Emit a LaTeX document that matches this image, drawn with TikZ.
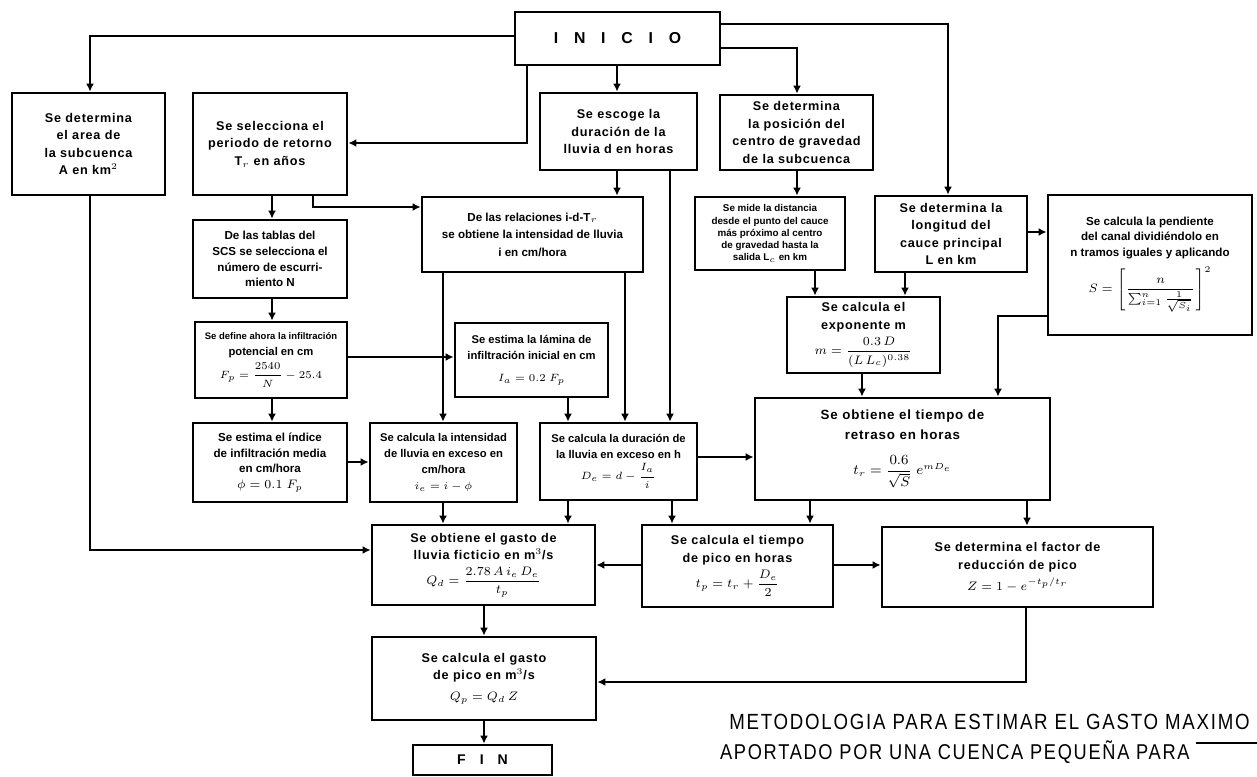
\documentclass[tikz,border=0pt]{standalone}
\usepackage{amsmath}
\usepackage{fontspec}
\setmainfont{Liberation Sans}
\newfontfamily\boxfont{Liberation Sans}[LetterSpace=6]
\newfontfamily\capfont{Liberation Sans}[FakeStretch=0.85, LetterSpace=8]
\usetikzlibrary{arrows.meta}
\tikzset{
  flowbox/.style={draw, line width=1.6pt, inner xsep=0.08cm, inner ysep=0pt,
    align=flush center, font=\boxfont\bfseries\fontsize{7.2}{10}\selectfont},
  arr/.style={line width=1.1pt, -{Latex[length=4.5pt,width=4.5pt]}},
  captext/.style={font=\capfont\fontsize{12.5}{14}\selectfont, inner sep=0pt}
}
% box from corner (x1,y1) to (x2,y2), given in drawing units
\newcommand\bx[7][]{%
  \pgfmathsetmacro\bxw{(#5-#3)*0.02}%
  \pgfmathsetmacro\bxh{(#6-#4)*0.02}%
  \pgfmathsetmacro\bxtw{\bxw-0.2}%
  \node[flowbox, minimum width=\bxw cm, minimum height=\bxh cm, text width=\bxtw cm, #1]
    (#2) at ({(#3+#5)/2},{(#4+#6)/2}) {#7};}
\begin{document}
\begin{tikzpicture}[x=0.02cm, y=-0.02cm]
\useasboundingbox (0,0) rectangle (1257,777);

\bx[font=\boxfont\bfseries\fontsize{9}{10}\selectfont]{inicio}{515}{12}{720}{65}{I\quad N\quad I\quad C\quad I\quad O}
\bx{A}{12}{93}{165}{195}{Se determina\\ el area de\\ la subcuenca\\ A en km$^2$}
\bx{T}{193}{93}{347}{195}{Se selecciona el\\ periodo de retorno\\ T$_r$ en años}
\bx{d}{540}{93}{697}{170}{Se escoge la\\ duración de la\\ lluvia d en horas}
\bx{cg}{720}{95}{873}{170}{Se determina\\ la posición del\\ centro de gravedad\\ de la subcuenca}
\bx[font=\bfseries\fontsize{5.6}{6.9}\selectfont]{mide}{695}{197}{845}{270}{Se mide la distancia\\ desde el punto del cauce\\ más próximo al centro\\ de gravedad hasta la\\ salida L$_c$ en km}
\bx{L}{875}{196}{1027}{272}{Se determina la\\ longitud del\\ cauce principal\\ L en km}
\bx[font=\bfseries\fontsize{6.6}{8.6}\selectfont]{S}{1048}{195}{1252}{335}{Se calcula la pendiente\\ del canal dividiéndolo en\\ n tramos iguales y aplicando\\[4pt]
  $S=\left[\dfrac{n}{\sum_{i=1}^{n}\frac{1}{\sqrt{S_i}}}\right]^{2}$}
\bx[font=\bfseries\fontsize{6.6}{9}\selectfont]{N}{193}{220}{347}{298}{De las tablas del\\ SCS se selecciona el\\ número de escurri-\\ miento N}
\bx[font=\bfseries\fontsize{6.6}{10}\selectfont]{rel}{422}{197}{643}{272}{De las relaciones i-d-T$_r$\\ se obtiene la intensidad de lluvia\\ i en cm/hora}
\bx{m}{787}{297}{940}{373}{Se calcula el\\ exponente m\\[2pt] $m=\dfrac{0.3\,D}{(L\,L_c)^{0.38}}$}
\bx[font=\bfseries\fontsize{6.4}{9}\selectfont]{F}{195}{322}{347}{398}{{\fontsize{5.4}{8}\selectfont Se define ahora la infiltración}\\ potencial en cm\\[2pt] $F_p=\dfrac{2540}{N}-25.4$}
\bx[font=\bfseries\fontsize{6.4}{9.5}\selectfont]{Ia}{455}{323}{608}{397}{Se estima la lámina de\\ infiltración inicial en cm\\[3pt] $I_a = 0.2\;F_p$}
\bx[font=\bfseries\fontsize{6.6}{9}\selectfont]{phi}{193}{423}{347}{502}{Se estima el índice\\ de infiltración media\\ en cm/hora\\ $\phi = 0.1\;F_p$}
\bx[font=\bfseries\fontsize{6.4}{9}\selectfont]{ie}{370}{423}{517}{502}{Se calcula la intensidad\\ de lluvia en exceso en\\ cm/hora\\ $i_e = i - \phi$}
\bx[font=\bfseries\fontsize{6.4}{9}\selectfont]{De}{540}{423}{697}{500}{Se calcula la duración de\\ la lluvia en exceso en h\\[2pt] $D_e = d - \dfrac{I_a}{i}$}
\bx[font=\boxfont\bfseries\fontsize{7.6}{11}\selectfont]{tr}{755}{398}{1050}{500}{Se obtiene el tiempo de\\ retraso en horas\\[9pt] $t_r=\dfrac{0.6}{\sqrt{S}}\;e^{m D_e}$}
\bx{Qd}{372}{525}{595}{605}{Se obtiene el gasto de\\ lluvia ficticio en m$^3$/s\\[3pt] $Q_d=\dfrac{2.78\,A\,i_e\,D_e}{t_p}$}
\bx{tp}{642}{525}{833}{607}{Se calcula el tiempo\\ de pico en horas\\[2pt] $t_p=t_r+\dfrac{D_e}{2}$}
\bx{Z}{882}{527}{1153}{607}{Se determina el factor de\\ reducción de pico\\[2pt] $Z=1-e^{-t_p/t_r}$}
\bx{pk}{372}{637}{596}{720}{Se calcula el gasto\\ de pico en m$^3$/s\\[2pt] $Q_p = Q_d\,Z$}
\bx[font=\boxfont\bfseries\fontsize{8}{10}\selectfont]{fin}{413}{745}{552}{775}{F\quad I\quad N}

% connectors leaving INICIO
\draw[arr] (inicio.west |- 0,36) -| (A.north -| 90,0);
\draw[arr] (inicio.south -| 527,0) |- (T.east |- 0,143);
\draw[arr] (inicio.south -| 617,0) -- (d.north -| 617,0);
\draw[arr] (inicio.east |- 0,48) -| (cg.north -| 797,0);
\draw[arr] (inicio.east |- 0,24) -| (L.north -| 948,0);

% upper level
\draw[arr] (T.south -| 272,0) -- (N.north -| 272,0);
\draw[arr] (T.south -| 313,0) |- (rel.west |- 0,207);
\draw[arr] (d.south -| 617,0) -- (rel.north -| 617,0);
\draw[arr] (d.south -| 670,0) -- (De.north -| 670,0);
\draw[arr] (cg.south -| 797,0) -- (mide.north -| 797,0);
\draw[arr] (mide.south -| 815,0) -- (m.north -| 815,0);
\draw[arr] (L.south -| 905,0) -- (m.north -| 905,0);
\draw[arr] (L.east |- 0,232) -- (S.west |- 0,232);
\draw[arr] (S.west |- 0,316) -| (tr.north -| 998,0);
\draw[arr] (m.south -| 862,0) -- (tr.north -| 862,0);

% middle level
\draw[arr] (rel.south -| 443,0) -- (ie.north -| 443,0);
\draw[arr] (rel.south -| 625,0) -- (De.north -| 625,0);
\draw[arr] (N.south -| 272,0) -- (F.north -| 272,0);
\draw[arr] (F.east |- 0,357) -- (Ia.west |- 0,357);
\draw[arr] (Ia.south -| 568,0) -- (De.north -| 568,0);
\draw[arr] (F.south -| 272,0) -- (phi.north -| 272,0);
\draw[arr] (phi.east |- 0,462) -- (ie.west |- 0,462);
\draw[arr] (De.east |- 0,457) -- (tr.west |- 0,457);

% lower level
\draw[arr] (A.south -| 90,0) |- (Qd.west |- 0,550);
\draw[arr] (ie.south -| 443,0) -- (Qd.north -| 443,0);
\draw[arr] (De.south -| 568,0) -- (Qd.north -| 568,0);
\draw[arr] (De.south -| 672,0) -- (tp.north -| 672,0);
\draw[arr] (tr.south -| 810,0) -- (tp.north -| 810,0);
\draw[arr] (tr.south -| 1027,0) -- (Z.north -| 1027,0);
\draw[arr] (tp.west |- 0,565) -- (Qd.east |- 0,565);
\draw[arr] (tp.east |- 0,565) -- (Z.west |- 0,565);
\draw[arr] (Qd.south -| 484,0) -- (pk.north -| 484,0);
\draw[arr] (pk.south -| 484,0) -- (fin.north -| 484,0);
\draw[arr] (Z.south -| 1026,0) |- (pk.east |- 0,682);

% caption
\node[captext, anchor=east] (cap1) at (1250,722) {METODOLOGIA PARA ESTIMAR EL GASTO MAXIMO};
\node[captext, anchor=east, font=\capfont\fontsize{12.2}{14}\selectfont] (cap2) at (1190,752) {APORTADO POR UNA CUENCA PEQUEÑA PARA};
\coordinate (capend) at (1257,743);
\draw[line width=0.6pt] (cap2.east |- capend) ++(6,0) -- (capend);
\end{tikzpicture}
\end{document}
